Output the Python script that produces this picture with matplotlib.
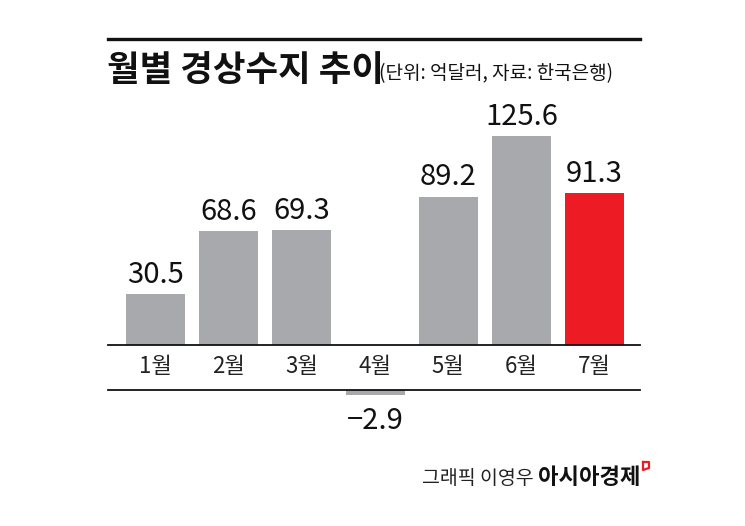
import matplotlib
matplotlib.use("Agg")
import matplotlib.pyplot as plt
from matplotlib.lines import Line2D

months = ["1월", "2월", "3월", "4월", "5월", "6월", "7월"]
values = [30.5, 68.6, 69.3, -2.9, 89.2, 125.6, 91.3]
value_labels = ["30.5", "68.6", "69.3", "−2.9", "89.2", "125.6", "91.3"]
title = "월별 경상수지 추이"
subtitle = "(단위: 억달러, 자료: 한국은행)"
credit = "그래픽 이영우"
brand = "아시아경제"

GRAY = "#a7a9ac"
RED = "#ed1c24"
colors = [GRAY] * 6 + [RED]

W, H = 745, 526
fig = plt.figure(figsize=(W / 100, H / 100), dpi=100)
fig.patch.set_facecolor("white")

KR = ["Noto Sans CJK KR", "DejaVu Sans"]
NUM = ["Liberation Sans Narrow", "Noto Sans CJK KR", "DejaVu Sans"]

def fx(px):
    return px / W

def fy(py):
    return 1 - py / H

pxu = 1.664  # pixels per unit
left, right = 108, 640
base_top = 345
ax1_top = 100
ax1 = fig.add_axes([fx(left), fy(base_top), fx(right - left), (base_top - ax1_top) / H])
ax1.set_ylim(0, (base_top - ax1_top) / pxu)
neg_top, neg_bot = 390, 440
ax2 = fig.add_axes([fx(left), fy(neg_bot), fx(right - left), (neg_bot - neg_top) / H])
ax2.set_ylim(-(neg_bot - neg_top) / pxu, 0)

x = list(range(len(months)))
for ax in (ax1, ax2):
    ax.bar(x, values, width=0.805, color=colors)
    ax.set_xlim(-0.65, len(months) - 1 + 0.62)
    ax.axis("off")
    ax.patch.set_visible(False)

for i, (v, lab) in enumerate(zip(values, value_labels)):
    if v >= 0:
        ax1.annotate(lab, (i, v), xytext=(0, 3), textcoords="offset points",
                     ha="center", va="bottom", fontsize=21, family=NUM, color="#111111")
    else:
        ax2.annotate(lab, (i, v), xytext=(0, -8), textcoords="offset points",
                     ha="center", va="top", fontsize=21, family=NUM, color="#111111")
    ax1.annotate(months[i], (i, 0), xytext=(0, -7), textcoords="offset points",
                 ha="center", va="top", fontsize=16, family=NUM, color="#222222")

# horizontal rules
for py, lw in [(39, 2.4), (345, 1.3), (390, 1.3)]:
    fig.add_artist(Line2D([fx(left), fx(right)], [fy(py), fy(py)], color="#111111", lw=lw))

fig.text(fx(107), fy(71), title, fontsize=25.5, fontweight="heavy", family=KR,
         ha="left", va="center", color="#111111")
fig.text(fx(379), fy(74), subtitle, fontsize=13.7, family=KR,
         ha="left", va="center", color="#111111")

fig.text(fx(534), fy(478), credit, fontsize=14, family=KR, ha="right", va="center", color="#222222")
fig.text(fx(538), fy(477), brand, fontsize=16, fontweight="heavy", family=KR,
         ha="left", va="center", color="#111111")
# small red logo mark
fig.add_artist(Line2D([fx(643), fx(649), fx(649), fx(643), fx(643)],
                      [fy(462), fy(462), fy(468), fy(470), fy(462)], color=RED, lw=1.6))

fig.savefig("out.png", dpi=100, facecolor="white")
